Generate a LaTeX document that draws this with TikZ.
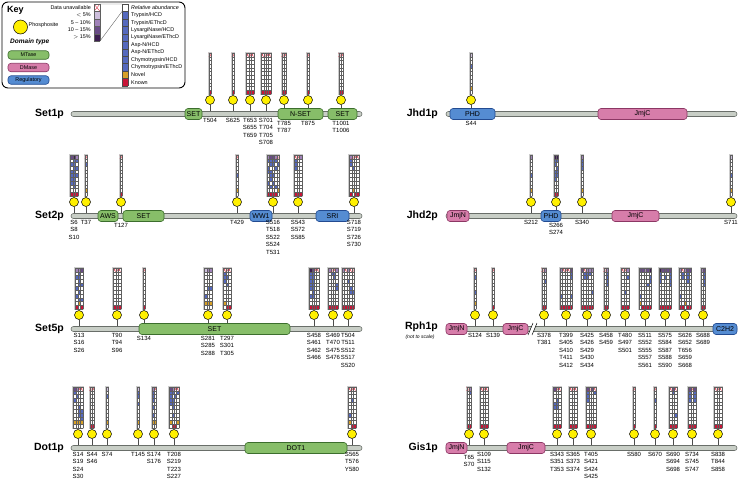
\documentclass[tikz,border=0pt]{standalone}
\usepackage{fontspec}
\setmainfont{Liberation Sans}
\usetikzlibrary{positioning}
\pgfdeclarelayer{bg}
\pgfsetlayers{bg,main}

\definecolor{mtasefill}{RGB}{135,190,105}
\definecolor{mtaseln}{RGB}{60,110,45}
\definecolor{dmasefill}{RGB}{215,125,170}
\definecolor{dmaseln}{RGB}{140,55,100}
\definecolor{regfill}{RGB}{85,140,210}
\definecolor{regln}{RGB}{35,75,145}
\definecolor{barfill}{RGB}{200,206,198}
\definecolor{barline}{RGB}{105,110,105}
\definecolor{siteyel}{RGB}{255,240,0}
\definecolor{hblue}{RGB}{85,105,190}
\definecolor{known}{RGB}{200,20,55}
\definecolor{novel}{RGB}{215,160,40}
\definecolor{xred}{RGB}{220,50,70}
\definecolor{pu1}{RGB}{205,190,220}
\definecolor{pu2}{RGB}{160,130,185}
\definecolor{pu3}{RGB}{105,75,135}
\definecolor{pu4}{RGB}{60,30,80}
\definecolor{cframe}{RGB}{205,205,205}
\definecolor{cgrid}{RGB}{95,95,95}

\tikzset{
  protbar/.style={draw=barline, fill=barfill, line width=0.6pt, minimum width=291pt,
    minimum height=5pt, inner sep=0, rounded corners=2.5pt},
  dom/.style={line width=0.6pt, minimum height=11pt, inner sep=0, rounded corners=3pt,
    font=\fontsize{7}{8}\selectfont},
  mtasebox/.style={dom, draw=mtaseln, fill=mtasefill},
  dmasebox/.style={dom, draw=dmaseln, fill=dmasefill},
  regbox/.style={dom, draw=regln, fill=regfill},
  site/.style={circle, draw=black, line width=0.5pt, fill=siteyel, minimum size=9pt, inner sep=0},
  stem/.style={draw=black!70, line width=0.5pt},
  sitelbl/.style={anchor=north, align=center, inner sep=0, font=\fontsize{6}{7.5}\selectfont},
  pname/.style={anchor=east, inner sep=0, font=\fontsize{10.5}{12}\selectfont\bfseries},
  keytxt/.style={inner sep=0, font=\fontsize{5.4}{6.5}\selectfont},
  hgrid/.style={draw=cgrid, line width=0.2pt},
}

\newcommand{\heatcw}{2.4}
\newcommand{\heatch}{3.7}

% heat column group: x, top y, columns, top row, known/novel row, blue cells
\newcommand{\heatcol}[6]{%
  \pgfmathsetmacro{\hx}{#1-#3*\heatcw/2}%
  \fill[cframe] (\hx-1,#2-1) rectangle (\hx+#3*\heatcw+1,#2+11*\heatch+1);
  \fill[white] (\hx,#2) rectangle (\hx+#3*\heatcw,#2+11*\heatch);
  \foreach \tc [count=\cc] in {#4}{%
    \if x\tc
      \draw[xred, line width=0.3pt] (\hx+\cc*\heatcw-\heatcw,#2) -- ++(\heatcw,\heatch)
        ++(-\heatcw,0) -- ++(\heatcw,-\heatch);
    \else
      \fill[pu\tc] (\hx+\cc*\heatcw-\heatcw,#2) rectangle ++(\heatcw,\heatch);
    \fi}
  \foreach \bc [count=\cc] in {#5}{%
    \if k\bc
      \fill[known] (\hx+\cc*\heatcw-\heatcw,#2+10*\heatch) rectangle ++(\heatcw,\heatch);
    \else
      \fill[novel] (\hx+\cc*\heatcw-\heatcw,#2+9*\heatch) rectangle ++(\heatcw,\heatch);
    \fi}
  \def\heatblue{#6}%
  \ifx\heatblue\empty\else
    \foreach \cc/\rr in {#6}
      \fill[hblue] (\hx+\cc*\heatcw-\heatcw,#2+\rr*\heatch-\heatch) rectangle ++(\heatcw,\heatch);
  \fi
  \foreach \ii in {0,...,#3}
    \draw[hgrid] (\hx+\ii*\heatcw,#2) -- ++(0,11*\heatch);
  \foreach \ii in {0,...,11}
    \draw[hgrid] (\hx,#2+\ii*\heatch) -- ++(#3*\heatcw,0);
}

% phosphosite: name, x, bar y, bar node, label offset, labels
\newcommand{\phsite}[6]{%
  \node[site] (#1) at (#2,#3-14) {};
  \begin{pgfonlayer}{bg}\draw[stem] (#1) -- (#1 |- #4);\end{pgfonlayer}
  \node[sitelbl] (#1t) at (#2,#3+#5) {#6};
}

\begin{document}
\begin{tikzpicture}[x=1pt, y=-1pt]
\useasboundingbox (0,0) rectangle (738,480);

% Key
\node[draw, line width=0.9pt, rounded corners=6pt, minimum width=183pt, minimum height=86pt,
  inner sep=0] (keybox) at (93.5,45) {};
\node[anchor=west, inner sep=0, font=\fontsize{9}{10}\selectfont\bfseries] (keyttl) at (7,10) {Key};
\node[site, minimum size=14pt] (keysite) at (20.5,27) {};
\node[keytxt, anchor=west] (keysitet) at (28.5,25) {Phosphosite};
\node[anchor=west, inner sep=0, font=\fontsize{6.5}{7}\selectfont\bfseries\itshape] (domtype) at (10,42) {Domain type};
\node[mtasebox, minimum width=41pt, minimum height=8.5pt, font=\fontsize{5.4}{6}\selectfont] (kmt) at (28.5,55) {MTase};
\node[dmasebox, minimum width=41pt, minimum height=8.5pt, font=\fontsize{5.4}{6}\selectfont] (kdm) at (28.5,67.5) {DMase};
\node[regbox, minimum width=41pt, minimum height=8.5pt, font=\fontsize{5.4}{6}\selectfont] (krg) at (28.5,80) {Regulatory};

% abundance scale
\foreach \lab [count=\i] in {Data unavailable,{$<$ 5\%},5 \textendash{} 10\%,10 \textendash{} 15\%,{$>$ 15\%}}
  \node[keytxt, anchor=east] (ka\i) at (91,{4+(\i-0.5)*7.4}) {\lab};
\foreach \i in {2,...,5}
  \fill[pu\the\numexpr\i-1\relax] (94,{4+(\i-1)*7.4}) rectangle (100,{4+\i*7.4});
\draw[xred, line width=0.4pt] (94,4) -- (100,11.4) (94,11.4) -- (100,4);
\foreach \i in {0,...,5}
  \draw[hgrid] (94,{4+\i*7.4}) -- (100,{4+\i*7.4});
\draw[hgrid] (94,4) -- (94,41) (100,4) -- (100,41);
\draw[black!60, line width=0.4pt] (100,4) -- (122,4) (100,41) -- (122,11.45);

% sample column
\fill[hblue] (122,11.45) rectangle (128,71.09);
\fill[novel] (122,71.09) rectangle (128,78.55);
\fill[known] (122,78.55) rectangle (128,86);
\foreach \i in {0,...,11}
  \draw[black!70, line width=0.3pt] (122,{4+\i*7.4545}) -- (128,{4+\i*7.4545});
\draw[black!70, line width=0.3pt] (122,4) -- (122,86) (128,4) -- (128,86);
\foreach \lab [count=\i] in {{\itshape Relative abundance},Trypsin/HCD,Trypsin/EThcD,LysargiNase/HCD,
  LysargiNase/EThcD,Asp-N/HCD,Asp-N/EThcD,Chymotrypsin/HCD,Chymotrypsin/EThcD,Novel,Known}
  \node[keytxt, anchor=west] (kl\i) at (131,{4+(\i-0.5)*7.4545}) {\lab};

% Set1p
\node[pname] (set1n) at (64,114) {Set1p};
\node[protbar] (set1) at (216.5,114) {};
\node[mtasebox, minimum width=17pt] (set1a) at (193.5,114) {SET};
\node[mtasebox, minimum width=45pt] (set1b) at (300.5,114) {N-SET};
\node[mtasebox, minimum width=29pt] (set1c) at (342.5,114) {SET};
\phsite{s1a}{210}{114}{set1}{4}{T504}
\phsite{s1b}{233}{114}{set1}{4}{S625}
\phsite{s1c}{250}{114}{set1}{4}{T653\\S655\\T659}
\phsite{s1d}{266}{114}{set1}{4}{S701\\T704\\T705\\S708}
\phsite{s1e}{284}{114}{set1}{7}{T785\\T787}
\phsite{s1f}{308}{114}{set1}{7}{T875}
\phsite{s1g}{341}{114}{set1}{7}{T1001\\T1006}
\heatcol{210}{53}{1}{x}{k}{}
\heatcol{233}{53}{1}{x}{k}{}
\heatcol{250}{53}{3}{x,x,x}{k,k,k}{}
\heatcol{266}{53}{4}{x,x,x,x}{k,k,k,k}{}
\heatcol{284}{53}{2}{x,x}{k,k}{}
\heatcol{308}{53}{1}{x}{k}{}
\heatcol{341}{53}{2}{x,x}{k,k}{}

% Set2p
\node[pname] (set2n) at (64,216) {Set2p};
\node[protbar] (set2) at (216.5,216) {};
\node[mtasebox, minimum width=20pt] (set2a) at (108,216) {AWS};
\node[mtasebox, minimum width=41pt] (set2b) at (143.5,216) {SET};
\node[regbox, minimum width=22pt] (set2c) at (261,216) {WW1};
\node[regbox, minimum width=33pt] (set2d) at (332.5,216) {SRI};
\phsite{s2a}{74}{216}{set2}{4}{S6\\S8\\S10}
\phsite{s2b}{86}{216}{set2}{4}{T37}
\phsite{s2c}{121}{216}{set2}{7}{T127}
\phsite{s2d}{237}{216}{set2}{4}{T429}
\phsite{s2e}{273}{216}{set2}{4}{S516\\T518\\S522\\S524\\T531}
\phsite{s2f}{298}{216}{set2}{4}{S543\\S572\\S585}
\phsite{s2g}{354}{216}{set2}{4}{S718\\S719\\S726\\S730}
\heatcol{74}{155}{3}{3,4,2}{k,k,k}{1/3,1/5,1/6,1/7,1/8,2/2,2/3,2/4,2/5,2/6,2/7,2/8,2/9,3/2,3/4,3/6}
\heatcol{86}{155}{1}{x}{n}{1/3}
\heatcol{121}{155}{1}{x}{k}{}
\heatcol{237}{155}{1}{x}{n}{1/6}
\heatcol{273}{155}{5}{2,3,3,2,x}{k,k,k,k,n}{1/2,1/4,1/5,1/8,2/2,2/3,2/5,2/6,2/7,2/9,3/2,3/3,3/6,3/8,4/2,4/4,4/9,5/3}
\heatcol{298}{155}{3}{x,x,2}{k,k,k}{1/2,1/3,1/4}
\heatcol{354}{155}{4}{2,x,x,x}{k,n,k,k}{1/2,1/3,2/4}

% Set5p
\node[pname] (set5n) at (64,329) {Set5p};
\node[protbar] (set5) at (216.5,329) {};
\node[mtasebox, minimum width=151pt] (set5a) at (214.5,329) {SET};
\phsite{s5a}{79}{329}{set5}{4}{S13\\S16\\S26}
\phsite{s5b}{117}{329}{set5}{4}{T90\\T94\\S96}
\phsite{s5c}{144}{329}{set5}{7}{S134}
\phsite{s5d}{208}{329}{set5}{7}{S281\\S285\\S288}
\phsite{s5e}{227}{329}{set5}{7}{T297\\S301\\T305}
\phsite{s5f}{314}{329}{set5}{4}{S458\\S461\\S462\\S466}
\phsite{s5g}{333}{329}{set5}{4}{S469\\T470\\S475\\S476}
\phsite{s5h}{348}{329}{set5}{4}{T504\\T511\\S512\\S517\\S520}
\heatcol{79}{268}{3}{2,2,3}{k,n,k}{1/3,1/6,1/8,2/2,2/3,2/4,2/5,2/7,2/9,3/5,3/9}
\heatcol{117}{268}{3}{x,x,x}{k,k,k}{}
\heatcol{144}{268}{1}{x}{k}{}
\heatcol{208}{268}{3}{1,2,2}{n,n,n}{2/6,3/6,1/8}
\heatcol{227}{268}{3}{x,x,x}{n,k,k}{1/2,1/3,1/4,2/3,2/5}
\heatcol{314}{268}{4}{4,3,x,x}{k,k,k,k}{1/2,1/3,1/4,1/5,1/6,1/8,2/2,2/3,2/4,2/5,2/6,2/7,2/8}
\heatcol{333}{268}{4}{2,x,x,2}{k,k,k,k}{2/2,3/2,3/3,4/5,4/6}
\heatcol{348}{268}{5}{2,x,2,x,x}{k,k,k,k,k}{3/4,4/6,4/7,5/7}

% Dot1p
\node[pname] (dot1n) at (64,448) {Dot1p};
\node[protbar] (dot1) at (216.5,448) {};
\node[mtasebox, minimum width=102pt] (dot1a) at (296,448) {DOT1};
\phsite{d1a}{78}{448}{dot1}{4}{S14\\S19\\S24\\S30}
\phsite{d1b}{92}{448}{dot1}{4}{S44\\S46}
\phsite{d1c}{107}{448}{dot1}{4}{S74}
\phsite{d1d}{138}{448}{dot1}{4}{T145}
\phsite{d1e}{154}{448}{dot1}{4}{S174\\S176}
\phsite{d1f}{174}{448}{dot1}{4}{T208\\S219\\T223\\S227}
\phsite{d1g}{352}{448}{dot1}{4}{S565\\T576\\Y580}
\heatcol{78}{387}{4}{3,2,x,x}{n,n,n,n}{1/2,1/4,2/3,3/6,3/7,3/8,4/7,4/8,4/9}
\heatcol{92}{387}{2}{x,x}{k,k}{}
\heatcol{107}{387}{1}{1}{n}{1/3}
\heatcol{138}{387}{1}{1}{n}{1/2,1/3,1/5}
\heatcol{154}{387}{2}{2,x}{n,n}{1/2,1/3,1/4,1/6,1/8}
\heatcol{174}{387}{4}{3,2,x,x}{n,k,k,n}{1/2,1/3,1/4,1/5,2/2,2/4,2/5,2/6,2/8,3/3,4/2}
\heatcol{352}{387}{3}{x,x,x}{n,k,k}{2/4,1/8}

% Jhd1p
\node[pname] (jhd1n) at (438,114) {Jhd1p};
\node[protbar] (jhd1) at (591.5,114) {};
\node[regbox, minimum width=45pt] (jhd1a) at (472.5,114) {PHD};
\node[dmasebox, minimum width=89pt] (jhd1b) at (642.5,114) {JmjC};
\phsite{j1a}{471}{114}{jhd1}{7}{S44}
\heatcol{471}{53}{1}{1}{n}{1/4}

% Jhd2p
\node[pname] (jhd2n) at (438,216) {Jhd2p};
\node[protbar] (jhd2) at (591.5,216) {};
\node[dmasebox, minimum width=22pt] (jhd2a) at (458,216) {JmjN};
\node[regbox, minimum width=20pt] (jhd2b) at (551,216) {PHD};
\node[dmasebox, minimum width=47pt] (jhd2c) at (635.5,216) {JmjC};
\phsite{j2a}{531}{216}{jhd2}{4}{S212}
\phsite{j2b}{556}{216}{jhd2}{7}{S266\\S274}
\phsite{j2c}{582}{216}{jhd2}{4}{S340}
\phsite{j2d}{731}{216}{jhd2}{4}{S711}
\heatcol{531}{155}{1}{2}{n}{1/6}
\heatcol{556}{155}{2}{4,4}{k,k}{1/2,1/3,1/5,1/6,1/7,2/2,2/4,2/5,2/6}
\heatcol{582}{155}{1}{2}{n}{1/2,1/3,1/4}
\heatcol{731}{155}{1}{1}{n}{1/6}

% Rph1p
\node[pname] (rph1n) at (438,327) {Rph1p};
\node[inner sep=0, font=\fontsize{5}{6}\selectfont\itshape] (rph1s) at (420,337) {(not to scale)};
\node[protbar] (rph1) at (591.5,329) {};
\fill[white] (528,335) -- (533,323) -- (537,323) -- (532,335) -- cycle;
\draw[line width=0.5pt] (528,335) -- (533,323) (532,335) -- (537,323);
\node[dmasebox, minimum width=21pt] (rph1a) at (456.5,329) {JmjN};
\node[dmasebox, minimum width=25pt] (rph1b) at (515.5,329) {JmjC};
\node[regbox, minimum width=24pt] (rph1c) at (725,329) {C2H2};
\phsite{r1a}{475}{329}{rph1}{4}{S124}
\phsite{r1b}{493}{329}{rph1}{4}{S139}
\phsite{r1c}{544}{329}{rph1}{4}{S378\\T381}
\phsite{r1d}{566}{329}{rph1}{4}{T399\\S405\\S410\\T411\\S412}
\phsite{r1e}{587}{329}{rph1}{4}{S425\\S426\\S429\\S430\\S434}
\phsite{r1f}{606}{329}{rph1}{4}{S458\\S459}
\phsite{r1g}{625}{329}{rph1}{4}{T480\\S497\\S501}
\phsite{r1h}{645}{329}{rph1}{4}{S511\\S552\\S555\\S557\\S561}
\phsite{r1i}{665}{329}{rph1}{4}{S575\\S584\\S587\\S588\\S590}
\phsite{r1j}{685}{329}{rph1}{4}{S626\\S652\\T656\\S659\\S668}
\phsite{r1k}{703}{329}{rph1}{4}{S688\\S689}
\heatcol{475}{268}{1}{x}{n}{1/3,1/7}
\heatcol{493}{268}{1}{x}{k}{}
\heatcol{544}{268}{2}{x,2}{k,k}{2/4}
\heatcol{566}{268}{5}{2,x,x,x,3}{k,k,k,k,k}{1/8,5/2,5/3,5/8}
\heatcol{587}{268}{5}{3,x,2,2,2}{k,k,k,k,k}{2/2,2/3,3/2,3/3,4/2,5/7}
\heatcol{606}{268}{2}{x,2}{k,k}{2/2,2/3,2/4,2/5}
\heatcol{625}{268}{3}{x,x,2}{k,k,k}{3/3,2/7}
\heatcol{645}{268}{5}{3,3,2,3,4}{n,k,k,k,k}{5/3,5/4,4/5,1/8}
\heatcol{665}{268}{5}{4,3,3,3,3}{k,k,k,k,k}{1/2,1/3,1/4,3/3,5/2,5/3,5/4,5/5}
\heatcol{685}{268}{5}{2,x,2,3,3}{k,k,n,k,k}{2/2,2/3,4/2,4/3,4/4,1/8}
\heatcol{703}{268}{2}{2,3}{k,k}{2/2,2/3,2/4,2/5}

% Gis1p
\node[pname] (gis1n) at (438,448) {Gis1p};
\node[protbar] (gis1) at (591.5,448) {};
\node[dmasebox, minimum width=21pt] (gis1a) at (456.5,448) {JmjN};
\node[dmasebox, minimum width=38pt] (gis1b) at (526,448) {JmjC};
\phsite{g1a}{469}{448}{gis1}{7}{T65\\S70}
\phsite{g1b}{484}{448}{gis1}{4}{S109\\S115\\S132}
\phsite{g1c}{557}{448}{gis1}{4}{S343\\S351\\T353}
\phsite{g1d}{573}{448}{gis1}{4}{S365\\S373\\S374}
\phsite{g1e}{591}{448}{gis1}{4}{T405\\S421\\S424\\S425}
\phsite{g1f}{634}{448}{gis1}{4}{S580}
\phsite{g1g}{655}{448}{gis1}{4}{S670}
\phsite{g1h}{673}{448}{gis1}{4}{S690\\S694\\S698}
\phsite{g1i}{692}{448}{gis1}{4}{S734\\S745\\S747}
\phsite{g1j}{718}{448}{gis1}{4}{S838\\T844\\S858}
\heatcol{469}{387}{2}{x,2}{k,k}{2/2}
\heatcol{484}{387}{3}{x,x,x}{k,k,k}{}
\heatcol{557}{387}{3}{3,x,x}{k,k,k}{1/5,1/6,2/4,2/5,2/6}
\heatcol{573}{387}{3}{x,x,x}{k,k,k}{}
\heatcol{591}{387}{4}{3,x,3,x}{k,k,k,k}{1/2,1/3,1/4,4/2}
\heatcol{634}{387}{1}{x}{k}{}
\heatcol{655}{387}{1}{x}{k}{1/4}
\heatcol{673}{387}{3}{x,3,x}{k,k,k}{2/2,3/8}
\heatcol{692}{387}{3}{3,x,3}{k,k,k}{1/2,1/3,1/4,3/2,3/3,3/4}
\heatcol{718}{387}{3}{x,x,x}{k,k,k}{}

\end{tikzpicture}
\end{document}
